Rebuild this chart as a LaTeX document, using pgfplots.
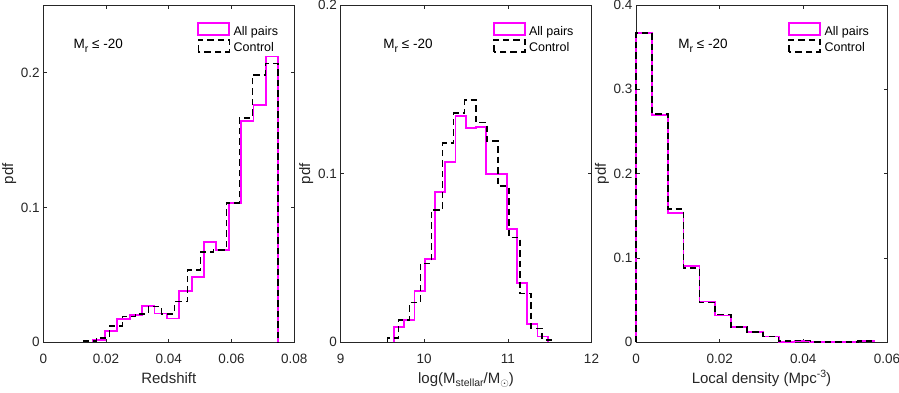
\documentclass[border=0pt]{standalone}
\usepackage{fontspec}
\setmainfont{Liberation Sans}
\usepackage{pgfplots}
\pgfplotsset{compat=1.18}

\definecolor{axgray}{rgb}{0.15,0.15,0.15}
\definecolor{pairmag}{rgb}{1,0,1}
\newcommand\lo[1]{\raisebox{-3.5pt}{\fontsize{10.5}{11}\selectfont #1}}
\newcommand\hi[1]{\raisebox{5.5pt}{\fontsize{10.5}{11}\selectfont #1}}

\tikzset{annot/.style={anchor=base west, inner sep=0pt, font=\fontsize{13.5}{15}\selectfont}}

\pgfplotsset{
  histax/.style={
    scale only axis, width=251pt, height=337.3pt, anchor=south west,
    axis line style={axgray, line width=0.6pt},
    tick style={axgray, line width=0.6pt},
    tick align=inside, major tick length=3.5pt, minor tick num=0,
    scaled ticks=false,
    /pgf/number format/assume math mode=true,
    /pgf/number format/fixed, /pgf/number format/precision=2,
    ticklabel style={font=\fontsize{13.5}{15}\selectfont, text=axgray},
    xticklabel style={anchor=base, yshift=-21pt},
    yticklabel style={anchor=east, inner sep=0pt, xshift=-3.5pt},
    label style={font=\fontsize{15}{17}\selectfont, text=axgray},
    xlabel style={at={(axis description cs:0.5,-0.1207)}, anchor=base},
    ylabel style={at={(axis description cs:-0.136,0.5)}, anchor=center},
    ylabel={pdf},
    ymin=0, clip=false,
    legend image code/.code={\draw[##1] (0pt,-6pt) rectangle (31pt,6pt);},
    legend cell align=left,
    legend style={draw=none, fill=none, inner sep=0pt, outer sep=0pt,
      anchor=north west, font=\fontsize{12.5}{14}\selectfont, row sep=3pt,
      nodes={inner sep=0pt, text height=12pt, text depth=0pt},
      /tikz/every odd column/.append style={column sep=3.4pt}},
  },
  pairs/.style={color=pairmag, line width=1.8pt, const plot},
  ctrl/.style={color=black, line width=1.6pt, dash pattern=on 6.5pt off 4pt, const plot},
}

\begin{document}
\begin{tikzpicture}

% ---- redshift
\begin{axis}[histax, at={(43.3pt,49.7pt)},
    xmin=0, xmax=0.08, xtick={0,0.02,0.04,0.06,0.08},
    ymax=0.25, ytick={0,0.1,0.2},
    xlabel={Redshift},
    legend style={at={(0.614,0.9487)}}]
  \addplot[pairs] coordinates {
    (0.01572,0) (0.01572,0.0020) (0.01967,0.0085) (0.02361,0.0171)
    (0.02756,0.0202) (0.03150,0.0272) (0.03545,0.0214) (0.03939,0.0177)
    (0.04334,0.0378) (0.04728,0.0482) (0.05123,0.0743) (0.05517,0.0686)
    (0.05912,0.1035) (0.06306,0.1641) (0.06701,0.1757) (0.07095,0.2118)
    (0.07490,0.2118) (0.07490,0)};
  \addplot[ctrl] coordinates {
    (0.01280,0) (0.01280,0.0010) (0.01694,0.0034) (0.02108,0.0122)
    (0.02522,0.0190) (0.02936,0.0212) (0.03350,0.0265) (0.03764,0.0212)
    (0.04178,0.0303) (0.04592,0.0537) (0.05006,0.0668) (0.05420,0.0686)
    (0.05834,0.1033) (0.06248,0.1662) (0.06662,0.1982) (0.07076,0.2066)
    (0.07490,0.2066) (0.07490,0)};
  \legend{All pairs, Control}
  \node[annot] at (rel axis cs:0.12,0.8696) {M\lo{r} ≤ -20};
\end{axis}

% ---- stellar mass
\begin{axis}[histax, at={(340.5pt,49.7pt)},
    xmin=9, xmax=12, xtick={9,10,11,12},
    ymax=0.2, ytick={0,0.1,0.2},
    xlabel={log(M\lo{stellar}/M\lo{$\odot$})},
    legend style={at={(0.607,0.9487)}}]
  \addplot[pairs] coordinates {
    (9.639,0) (9.639,0.0093) (9.762,0.0132) (9.884,0.0305)
    (10.006,0.0495) (10.129,0.0892) (10.251,0.1069) (10.374,0.1343)
    (10.496,0.1269) (10.619,0.1275) (10.741,0.0999) (10.864,0.0999)
    (10.986,0.0670) (11.109,0.0350) (11.231,0.0110) (11.354,0.0035)
    (11.476,0.0035) (11.476,0)};
  \addplot[ctrl] coordinates {
    (9.560,0) (9.560,0.0024) (9.692,0.0132) (9.824,0.0235)
    (9.956,0.0468) (10.088,0.0785) (10.220,0.1180) (10.352,0.1358)
    (10.484,0.1437) (10.616,0.1303) (10.748,0.1193) (10.880,0.0927)
    (11.012,0.0622) (11.144,0.0290) (11.276,0.0083) (11.408,0.0014)
    (11.540,0.0014) (11.540,0)};
  \legend{All pairs, Control}
  \node[annot] at (rel axis cs:0.170,0.8696) {M\lo{r} ≤ -20};
\end{axis}

% ---- local density
\begin{axis}[histax, at={(636pt,49.7pt)},
    xmin=0, xmax=0.06, xtick={0,0.02,0.04,0.06},
    ymax=0.4, ytick={0,0.1,0.2,0.3,0.4},
    xlabel={Local density (Mpc\hi{-3})},
    legend style={at={(0.607,0.9487)}}]
  \addplot[pairs] coordinates {
    (0,0) (0,0.3668) (0.00379,0.2698) (0.00758,0.1531) (0.01137,0.0906)
    (0.01516,0.0483) (0.01894,0.0318) (0.02273,0.0186) (0.02652,0.0119)
    (0.03031,0.0070) (0.03410,0.0008) (0.03789,0.0017) (0.04168,0.0003)
    (0.04547,0.0001) (0.04926,0.0004) (0.05304,0.0015) (0.05683,0.0015)
    (0.05683,0)};
  \addplot[ctrl] coordinates {
    (0,0) (0,0.3668) (0.00379,0.2706) (0.00758,0.1579) (0.01137,0.0878)
    (0.01516,0.0471) (0.01894,0.0330) (0.02273,0.0180) (0.02652,0.0125)
    (0.03031,0.0070) (0.03410,0.0012) (0.03789,0.0020) (0.04168,0.0003)
    (0.04547,0.0003) (0.04926,0.0004) (0.05304,0.0015) (0.05683,0.0015)
    (0.05683,0)};
  \legend{All pairs, Control}
  \node[annot] at (rel axis cs:0.168,0.8696) {M\lo{r} ≤ -20};
\end{axis}

\pgfresetboundingbox
\path[use as bounding box] (0,0) rectangle (899pt,392pt);
\end{tikzpicture}
\end{document}
